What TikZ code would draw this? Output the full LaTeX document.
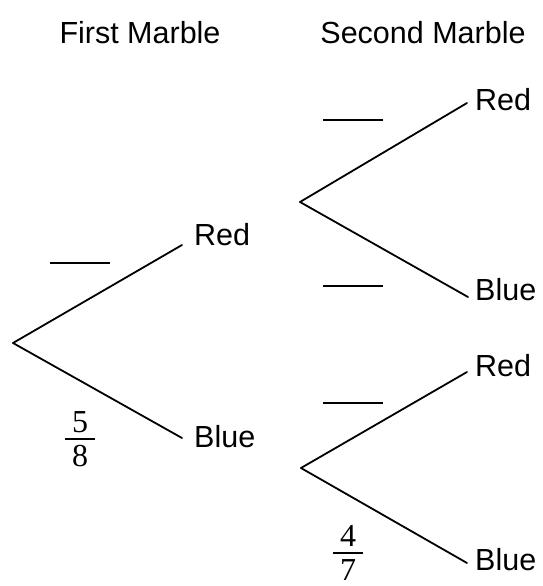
\documentclass[tikz,border=0pt]{standalone}
\usepackage{fontspec}
\setmainfont{Liberation Sans}
\newfontfamily\numfont{Liberation Serif}
\usetikzlibrary{positioning}
\tikzset{
  branch/.style={line width=1.8pt, line cap=round},
  lbl/.style={inner sep=0pt, anchor=west, font=\fontsize{30.5}{35}\selectfont},
  head/.style={inner sep=0pt, font=\fontsize{30.5}{35}\selectfont},
  blank/.style={inner sep=0pt},
  digit/.style={inner sep=0pt, font=\numfont\fontsize{32}{36}\selectfont},
}
\begin{document}
\begin{tikzpicture}[x=1pt, y=-1pt]
  \useasboundingbox (0,0) rectangle (542,586);

  % column headings
  \node[head] (h1) at (140,33) {First Marble};
  \node[head] (h2) at (423,33) {Second Marble};

  % branching points
  \coordinate (root) at (13,343);
  \coordinate (vr) at (300,202);
  \coordinate (vb) at (301,468);

  % outcome labels
  \node[lbl] (r1) at (194,235) {Red};
  \node[lbl] (b1) at (194,437) {Blue};
  \node[lbl] (r2) at (475,100) {Red};
  \node[lbl] (b2) at (475,290) {Blue};
  \node[lbl] (r3) at (475,366) {Red};
  \node[lbl] (b3) at (475,560) {Blue};

  % tree branches
  \draw[branch] (root) -- ([shift={(-12,10)}]r1.west);
  \draw[branch] (root) -- ([shift={(-12,1)}]b1.west);
  \draw[branch] (vr) -- ([shift={(-8,3)}]r2.west);
  \draw[branch] (vr) -- ([shift={(-7,7)}]b2.west);
  \draw[branch] (vb) -- ([shift={(-8,6)}]r3.west);
  \draw[branch] (vb) -- ([shift={(-8,3)}]b3.west);

  % blanks for the missing probabilities
  \node[blank] (p1) at (80,263) {\rule{60pt}{1.8pt}};
  \node[blank] (p2) at (353,120) {\rule{60pt}{1.8pt}};
  \node[blank] (p3) at (353,286) {\rule{60pt}{1.8pt}};
  \node[blank] (p4) at (353,403) {\rule{60pt}{1.8pt}};

  % given probabilities
  \node[blank] (f1) at (80,439) {\rule{30pt}{1.8pt}};
  \node[digit, above=5pt of f1] (f1n) {5};
  \node[digit, below=5pt of f1] (f1d) {8};
  \node[blank] (f2) at (348,553) {\rule{30pt}{1.8pt}};
  \node[digit, above=5pt of f2] (f2n) {4};
  \node[digit, below=5pt of f2] (f2d) {7};
\end{tikzpicture}
\end{document}
